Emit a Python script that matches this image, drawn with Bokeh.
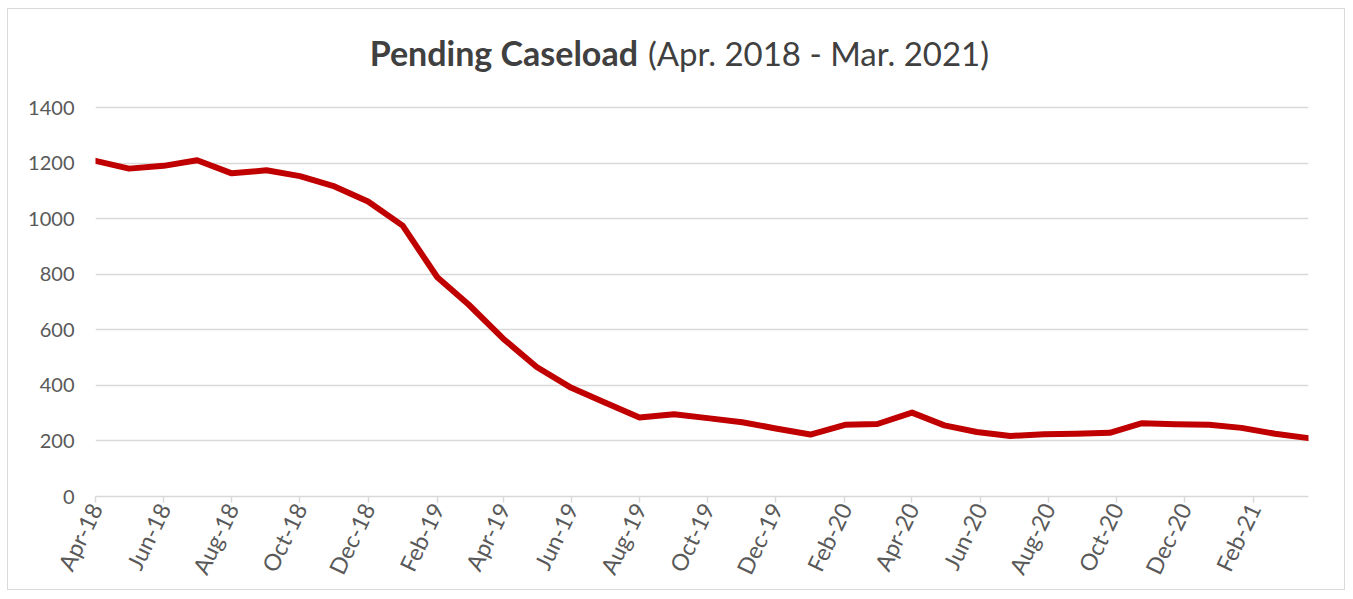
import pandas as pd
from bokeh.plotting import figure
from bokeh.models import Range1d, FixedTicker
from bokeh.core.properties import value
from bokeh.embed import file_html
from bokeh.resources import INLINE

# ---- data ----
dates = [
    "2018-04-01", "2018-05-01", "2018-06-01", "2018-07-01", "2018-08-01", "2018-09-01",
    "2018-10-01", "2018-11-01", "2018-12-01", "2019-01-01", "2019-02-01", "2019-03-01",
    "2019-04-01", "2019-05-01", "2019-06-01", "2019-07-01", "2019-08-01", "2019-09-01",
    "2019-10-01", "2019-11-01", "2019-12-01", "2020-01-01", "2020-02-01", "2020-03-01",
    "2020-04-01", "2020-04-30", "2020-05-29", "2020-06-28", "2020-07-28", "2020-08-26",
    "2020-09-25", "2020-10-24", "2020-11-23", "2020-12-23", "2021-01-21", "2021-02-20",
    "2021-03-22",
]
caseload = [
    1208, 1180, 1190, 1210, 1163, 1174, 1153, 1116, 1062, 975, 789, 691,
    568, 466, 391, 338, 284, 296, 282, 267, 245, 223, 258, 261,
    302, 256, 232, 218, 224, 226, 229, 264, 260, 258, 247, 226, 210,
]
x_tick_labels = [
    "Apr-18", "Jun-18", "Aug-18", "Oct-18", "Dec-18", "Feb-19", "Apr-19", "Jun-19",
    "Aug-19", "Oct-19", "Dec-19", "Feb-20", "Apr-20", "Jun-20", "Aug-20", "Oct-20",
    "Dec-20", "Feb-21",
]
y_ticks = [0, 200, 400, 600, 800, 1000, 1200, 1400]

title_bold = "Pending Caseload"
title_rest = "(Apr. 2018 - Mar. 2021)"

# ---- build ----
xs = pd.to_datetime(dates)
x_ms = [t.timestamp() * 1000 for t in xs]
tick_ms = [t.timestamp() * 1000 for t in pd.to_datetime(x_tick_labels, format="%b-%y")]

FONT = "Lato"
TXT = "#595959"
GRID = "#D9D9D9"

# plot area in pixels: value axis 0..1400 spans 389 px; extra headroom holds the title
px_per_unit = 389 / (y_ticks[-1] - y_ticks[0])
y_top = y_ticks[-1] + 88 / px_per_unit
y_title = y_ticks[-1] + 55 / px_per_unit
x_span = x_ms[-1] - x_ms[0]

p = figure(
    width=1338, height=582,
    x_axis_type="datetime",
    x_range=Range1d(start=x_ms[0], end=x_ms[-1]),
    y_range=Range1d(start=y_ticks[0], end=y_top),
    output_backend="svg", toolbar_location=None,
    min_border_left=87, min_border_right=38, min_border_top=10, min_border_bottom=95,
)
p.styles = {"border": "1px solid #D9D9D9", "margin-left": "7px", "margin-top": "8px"}
p.outline_line_color = None
p.background_fill_color = "white"
p.border_fill_color = "white"

p.line(x_ms, caseload, line_color="#C00000", line_width=6,
       line_join="round", line_cap="round")

# title (two weights on one line)
p.text(x=[x_ms[0] + 0.4472 * x_span], y=[y_title], text=[title_bold],
       text_align="right", text_baseline="middle", text_font=value(FONT),
       text_font_style="bold", text_font_size="34px", text_color="#404040")
p.text(x=[x_ms[0] + 0.4554 * x_span], y=[y_title], text=[title_rest],
       text_align="left", text_baseline="middle", text_font=value(FONT),
       text_font_style="normal", text_font_size="33px", text_color="#404040")

# y axis
p.yaxis.ticker = FixedTicker(ticks=y_ticks)
p.yaxis.axis_line_color = None
p.yaxis.major_tick_line_color = None
p.yaxis.minor_tick_line_color = None
p.yaxis.major_label_standoff = 15
p.yaxis.major_label_text_font = FONT
p.yaxis.major_label_text_font_size = "20px"
p.yaxis.major_label_text_color = TXT

# x axis
p.xaxis.ticker = FixedTicker(ticks=tick_ms)
p.xaxis.major_label_overrides = {t: l for t, l in zip(tick_ms, x_tick_labels)}
p.xaxis.axis_line_color = GRID
p.xaxis.axis_line_width = 1.5
p.xaxis.major_tick_line_color = GRID
p.xaxis.major_tick_line_width = 1.5
p.xaxis.major_tick_in = 0
p.xaxis.major_tick_out = 6
p.xaxis.minor_tick_line_color = None
p.xaxis.major_label_orientation = 1.12
p.xaxis.major_label_standoff = 2
p.xaxis.major_label_text_font = FONT
p.xaxis.major_label_text_font_size = "23px"
p.xaxis.major_label_text_color = TXT

# grid
p.xgrid.grid_line_color = None
p.ygrid.ticker = FixedTicker(ticks=y_ticks)
p.ygrid.grid_line_color = GRID
p.ygrid.grid_line_width = 1.5

open("out.html", "w").write(file_html(p, INLINE))
